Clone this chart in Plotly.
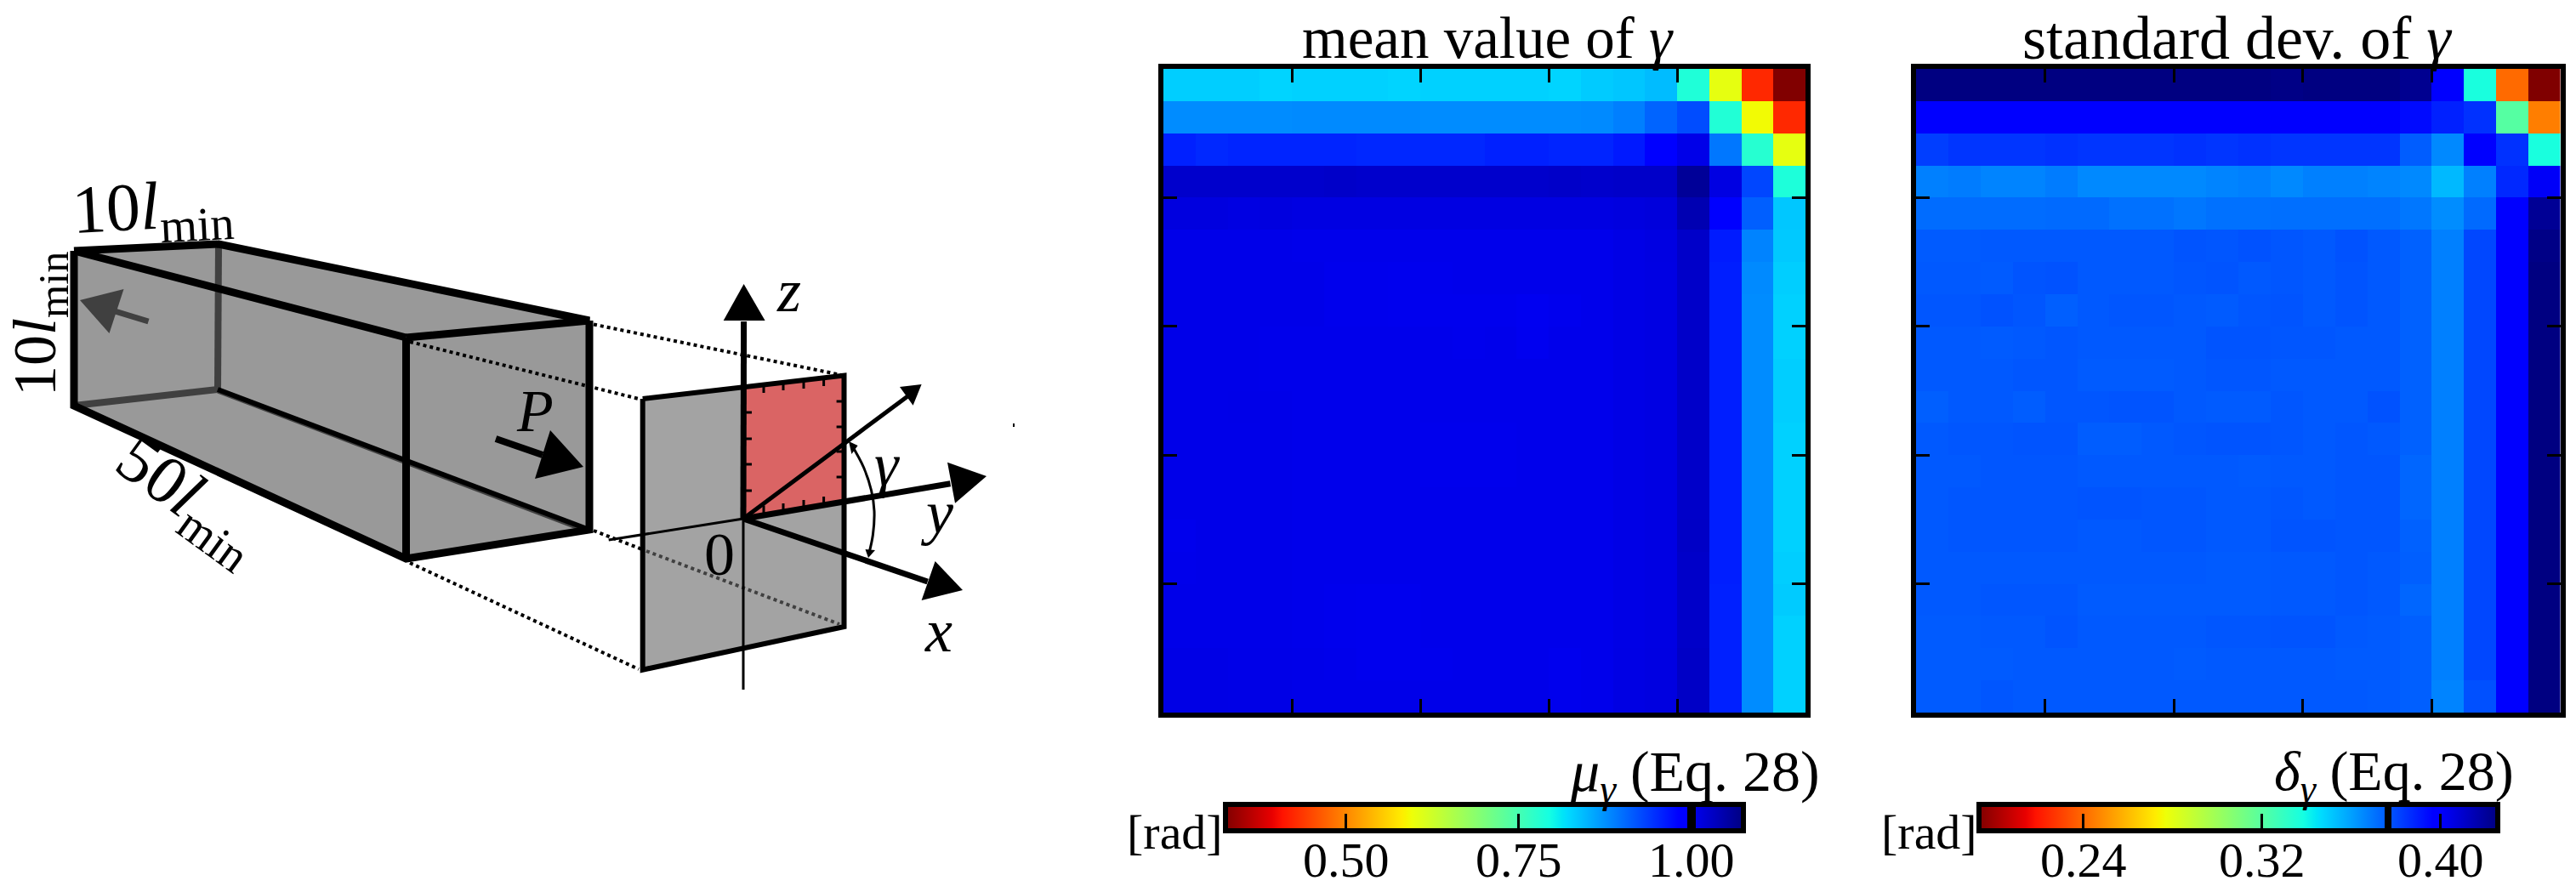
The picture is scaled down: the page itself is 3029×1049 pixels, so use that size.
import plotly.graph_objects as go

W, H = 3029, 1049
FONT = "Liberation Serif"
GREY = "rgb(153,153,153)"
PANEL_GREY = "rgb(163,163,163)"
DARK = "rgb(64,64,64)"
RED = "rgb(218,100,100)"

# matplotlib jet flipped, low values are dark red
jet_nodes = [
    (0.0, "rgb(0,0,128)"), (0.11, "rgb(0,0,255)"), (0.125, "rgb(0,0,255)"),
    (0.34, "rgb(0,219,255)"), (0.35, "rgb(0,230,247)"), (0.375, "rgb(21,255,226)"),
    (0.64, "rgb(238,255,8)"), (0.65, "rgb(247,246,0)"), (0.66, "rgb(255,236,0)"),
    (0.89, "rgb(255,19,0)"), (0.91, "rgb(232,0,0)"), (1.0, "rgb(128,0,0)"),
]
jet_r = [[round(1 - p, 3), c] for p, c in reversed(jet_nodes)]

mean_min, mean_max = 0.3256, 1.0755
std_min, std_max = 0.1931, 0.4252
mean_ticks = [0.5, 0.75, 1.0]
mean_labels = ["0.50", "0.75", "1.00"]
std_ticks = [0.24, 0.32, 0.40]
std_labels = ["0.24", "0.32", "0.40"]
mean_mark = 1.0004
std_mark = 0.3764
tick_cells = [4, 8, 12, 16]

# row 0 is the top row
mean_gamma = [
    [.830, .830, .830, .826, .828, .828, .828, .826, .828, .828, .828, .828, .826, .832, .836, .843, .785, .603, .425, .326],
    [.879, .879, .879, .879, .880, .880, .880, .880, .879, .879, .879, .879, .879, .880, .888, .908, .926, .783, .592, .425],
    [.958, .952, .955, .955, .955, .955, .953, .953, .953, .953, .958, .958, .955, .955, .963, .985, 1.008, .894, .779, .603],
    [1.026, 1.026, 1.026, 1.026, 1.026, 1.028, 1.026, 1.026, 1.026, 1.026, 1.026, 1.026, 1.028, 1.026, 1.028, 1.028, 1.060, 1.012, .930, .787],
    [1.014, 1.014, 1.012, 1.014, 1.012, 1.012, 1.012, 1.012, 1.012, 1.012, 1.012, 1.012, 1.012, 1.012, 1.014, 1.016, 1.043, .985, .912, .835],
    [1.007, 1.007, 1.007, 1.007, 1.006, 1.006, 1.006, 1.006, 1.006, 1.006, 1.006, 1.006, 1.006, 1.006, 1.009, 1.012, 1.028, .962, .885, .834],
    [1.007, 1.007, 1.007, 1.007, 1.007, 1.005, 1.005, 1.004, 1.005, 1.006, 1.006, 1.006, 1.006, 1.006, 1.009, 1.011, 1.028, .960, .880, .830],
    [1.007, 1.007, 1.007, 1.007, 1.007, 1.005, 1.005, 1.004, 1.004, 1.004, 1.004, 1.002, 1.004, 1.006, 1.009, 1.011, 1.028, .960, .879, .828],
    [1.007, 1.007, 1.007, 1.006, 1.006, 1.006, 1.006, 1.006, 1.006, 1.005, 1.006, 1.003, 1.006, 1.006, 1.009, 1.011, 1.028, .960, .879, .828],
    [1.007, 1.007, 1.007, 1.006, 1.006, 1.006, 1.006, 1.006, 1.006, 1.006, 1.006, 1.006, 1.006, 1.006, 1.009, 1.011, 1.028, .960, .879, .830],
    [1.007, 1.007, 1.008, 1.007, 1.006, 1.006, 1.006, 1.006, 1.006, 1.006, 1.006, 1.006, 1.006, 1.006, 1.009, 1.011, 1.028, .960, .879, .830],
    [1.007, 1.007, 1.007, 1.007, 1.006, 1.006, 1.006, 1.006, 1.005, 1.005, 1.005, 1.006, 1.006, 1.006, 1.009, 1.011, 1.028, .960, .879, .828],
    [1.007, 1.007, 1.007, 1.007, 1.006, 1.006, 1.006, 1.006, 1.005, 1.005, 1.005, 1.006, 1.006, 1.006, 1.009, 1.011, 1.028, .960, .879, .828],
    [1.007, 1.007, 1.007, 1.007, 1.006, 1.006, 1.006, 1.006, 1.006, 1.006, 1.006, 1.006, 1.006, 1.006, 1.009, 1.011, 1.028, .960, .879, .828],
    [1.005, 1.007, 1.007, 1.007, 1.006, 1.006, 1.006, 1.006, 1.006, 1.006, 1.006, 1.006, 1.006, 1.006, 1.009, 1.011, 1.030, .960, .879, .828],
    [1.006, 1.007, 1.007, 1.007, 1.006, 1.006, 1.006, 1.006, 1.006, 1.006, 1.006, 1.006, 1.006, 1.006, 1.009, 1.011, 1.028, .960, .879, .830],
    [1.007, 1.007, 1.007, 1.007, 1.006, 1.005, 1.004, 1.004, 1.006, 1.006, 1.006, 1.006, 1.006, 1.006, 1.009, 1.011, 1.028, .958, .879, .832],
    [1.007, 1.007, 1.007, 1.007, 1.006, 1.005, 1.004, 1.004, 1.006, 1.006, 1.006, 1.006, 1.006, 1.006, 1.009, 1.011, 1.028, .958, .879, .828],
    [1.009, 1.009, 1.008, 1.008, 1.007, 1.006, 1.004, 1.004, 1.005, 1.006, 1.006, 1.006, 1.004, 1.006, 1.010, 1.012, 1.030, .958, .879, .828],
    [1.010, 1.010, 1.009, 1.009, 1.007, 1.007, 1.007, 1.007, 1.007, 1.007, 1.007, 1.007, 1.005, 1.006, 1.011, 1.013, 1.030, .958, .879, .828],
]

std_gamma = [
    [.425, .425, .425, .425, .425, .425, .425, .425, .425, .425, .425, .424, .425, .425, .425, .422, .397, .337, .240, .193],
    [.398, .398, .398, .398, .398, .398, .398, .398, .398, .398, .398, .398, .398, .398, .398, .394, .389, .385, .320, .245],
    [.382, .384, .384, .384, .385, .384, .384, .384, .385, .384, .385, .384, .384, .384, .384, .375, .365, .397, .385, .337],
    [.367, .368, .366, .366, .368, .365, .365, .365, .365, .366, .367, .365, .367, .367, .366, .365, .354, .367, .387, .401],
    [.3715, .3715, .3715, .3715, .372, .372, .3705, .3705, .369, .3705, .3705, .371, .371, .371, .371, .369, .364, .372, .397, .421],
    [.3755, .3755, .376, .376, .376, .376, .376, .376, .377, .3765, .3775, .3765, .376, .3775, .376, .374, .367, .380, .397, .424],
    [.376, .376, .3755, .377, .3775, .376, .376, .376, .3765, .377, .376, .3765, .376, .377, .376, .374, .367, .380, .397, .425],
    [.3765, .3765, .3775, .3765, .3745, .376, .3765, .3765, .376, .3755, .3765, .377, .376, .377, .376, .374, .367, .380, .397, .425],
    [.376, .376, .3755, .376, .3765, .376, .376, .376, .376, .377, .377, .3765, .3765, .376, .376, .374, .367, .380, .397, .425],
    [.376, .376, .376, .3765, .3765, .3755, .3755, .3755, .376, .3765, .3765, .376, .376, .376, .376, .374, .367, .380, .397, .425],
    [.3745, .376, .376, .375, .3765, .3765, .377, .377, .376, .3755, .3755, .3765, .376, .376, .3775, .374, .367, .380, .397, .425],
    [.376, .3765, .3765, .377, .377, .375, .375, .376, .3765, .377, .377, .3765, .376, .3765, .376, .374, .367, .380, .397, .425],
    [.376, .376, .3765, .3765, .3765, .376, .376, .376, .376, .376, .3755, .376, .376, .3765, .3765, .373, .367, .380, .397, .425],
    [.376, .3765, .3765, .3765, .3765, .377, .377, .3765, .3765, .376, .376, .3765, .376, .3765, .3765, .373, .367, .380, .397, .425],
    [.376, .3765, .3765, .3765, .3765, .376, .376, .3765, .3765, .376, .376, .377, .377, .3765, .3765, .374, .367, .380, .397, .425],
    [.376, .376, .376, .376, .376, .376, .376, .376, .376, .3755, .3755, .376, .376, .3765, .376, .3745, .367, .380, .397, .425],
    [.376, .376, .3765, .3765, .3765, .3755, .3755, .3755, .3755, .3755, .3755, .376, .376, .3765, .376, .373, .367, .380, .397, .425],
    [.3755, .3755, .376, .376, .377, .376, .376, .376, .376, .3765, .3765, .377, .377, .376, .3755, .3745, .367, .380, .397, .425],
    [.3755, .3755, .3755, .376, .376, .376, .376, .376, .3755, .376, .376, .376, .376, .3755, .3755, .3745, .367, .380, .397, .425],
    [.3755, .3755, .3765, .376, .376, .376, .376, .376, .376, .376, .376, .376, .376, .376, .3755, .3745, .366, .378, .397, .425],
]

cell_centres = [i + 0.5 for i in range(20)]

MEAN_BAR_X, MEAN_BAR_W = 1441, 609
STD_BAR_X, STD_BAR_W = 2326.5, 609.5


def dom_x(a, b):
    return [a / W, b / W]


def dom_y(top, bottom):
    return [1 - bottom / H, 1 - top / H]


def colorbar(left, bar_w):
    return dict(
        orientation="h", lenmode="pixels", len=bar_w, thickness=31, thicknessmode="pixels",
        x=left / W, xanchor="left", xpad=0, y=1 - 946 / H, yanchor="top", ypad=0,
        outlinewidth=6, outlinecolor="black", borderwidth=0,
        tickmode="array", tickvals=[], ticks="", showticklabels=False,
    )


fig = go.Figure()
fig.add_trace(go.Heatmap(
    z=mean_gamma, x=cell_centres, y=cell_centres, colorscale=jet_r, zmin=mean_min, zmax=mean_max,
    xaxis="x", yaxis="y", hoverinfo="skip", colorbar=colorbar(MEAN_BAR_X, MEAN_BAR_W),
))
fig.add_trace(go.Heatmap(
    z=std_gamma, x=cell_centres, y=cell_centres, colorscale=jet_r, zmin=std_min, zmax=std_max,
    xaxis="x2", yaxis="y2", hoverinfo="skip", colorbar=colorbar(STD_BAR_X, STD_BAR_W),
))


# the schematic on the left sits on a full page axis in pixels
def poly(pts, fill):
    fig.add_trace(go.Scatter(
        x=[p[0] for p in pts], y=[p[1] for p in pts], xaxis="x3", yaxis="y3", mode="lines",
        fill="toself", fillcolor=fill, line=dict(width=0), hoverinfo="skip", showlegend=False,
    ))


def line(pts, width, color="black", dash="solid", shape="linear"):
    fig.add_trace(go.Scatter(
        x=[p[0] for p in pts], y=[p[1] for p in pts], xaxis="x3", yaxis="y3", mode="lines",
        line=dict(width=width, color=color, dash=dash, shape=shape), hoverinfo="skip", showlegend=False,
    ))


A, B, C, D = (87, 295), (257, 287), (693, 377), (477.5, 397)
E, F, G, K = (87, 477), (477.5, 657), (693, 623), (256, 458)
O = (874, 610)
P_TL, P_TR, P_BR, P_BL = (755.7, 469), (992.5, 441.6), (992.5, 737), (755.7, 787.7)
DOTS = "4px,4px"

poly([A, B, C, G, F, E, A], GREY)
line([B, K], 8, DARK)
line([K, E], 8, DARK)
line([(256, 461), (691, 626)], 3, DARK)
line([K, G], 6)
line([A, D], 9)
line([D, F], 9)
line([A, B, C, D], 9)
line([A, E, F, G, C], 9)

# grey arrow on the back face, black P arrow on the front
line([(174.5, 378), (122, 362)], 7, DARK)
poly([(94, 353), (145.5, 340), (128.5, 392), (94, 353)], DARK)
line([(583, 516), (638, 535)], 8)
poly([(686, 549), (647, 506), (629, 563), (686, 549)], "black")

# dotted projection to the plane
line([(698, 381.5), P_TR], 4, dash=DOTS)
line([(482, 402), (751, 469)], 4, dash=DOTS)
line([(698, 624), (755, 646)], 4, dash=DOTS)
line([(482, 662), (751, 787)], 4, dash=DOTS)

poly([P_TL, P_TR, P_BR, P_BL, P_TL], PANEL_GREY)
poly([(874, 456.4), P_TR, (991, 587.7), O, (874, 456.4)], RED)
line([P_TL, P_TR, P_BR, P_BL, P_TL], 6)
line([(760, 648), (987, 734)], 4, DARK, dash=DOTS)

# ticks round the red patch
for x0, y0, x1, y1 in [
    (898, 453.6, 898, 462), (921, 451, 921, 459), (945, 448.5, 945, 457), (968.6, 446, 968.6, 454),
    (874, 485, 884, 485), (874, 516, 884, 516), (874, 546, 884, 546), (874, 577, 884, 577),
    (983.6, 472, 992, 472), (983.6, 502, 992, 502), (983.6, 531, 992, 531), (983.6, 561, 992, 561),
    (898, 603, 898, 594.5), (921, 600, 921, 592), (945, 596, 945, 588), (968.6, 593, 968.6, 584),
]:
    line([(x0, y0), (x1, y1)], 3)

line([O, (874, 811)], 3)
line([O, (715.7, 635)], 3)
line([O, (874.6, 378)], 7)
poly([(874.6, 334), (850.7, 377), (899.6, 377), (874.6, 334)], "black")
line([O, (1117.5, 568.8)], 7)
poly([(1160, 560), (1114, 543.7), (1123, 591.8), (1160, 560)], "black")
line([O, (1090.7, 684)], 7)
poly([(1132, 694), (1099.6, 660), (1083.6, 706), (1132, 694)], "black")
line([O, (1070, 464)], 5)
poly([(1083.6, 452), (1058, 455), (1073.6, 476.7), (1083.6, 452)], "black")

# angle arc with its two small heads
line([(1000.7, 522), (1015.7, 550), (1024.6, 577), (1028, 601), (1026.4, 629), (1022, 650)], 3, shape="spline")
poly([(998, 519), (1008.6, 524), (1001.4, 534), (998, 519)], "black")
poly([(1021, 656), (1017.5, 646), (1029, 647), (1021, 656)], "black")
line([(1191, 500), (1193, 500)], 4)

annotations = []


def label(x, y, text, size=72, angle=0):
    annotations.append(dict(
        xref="x3", yref="y3", x=x, y=y, text=text, showarrow=False, textangle=angle,
        xanchor="center", yanchor="middle", font=dict(family=FONT, size=size, color="black"),
    ))


def black_box(x, y, w, h):
    annotations.append(dict(
        xref="x3", yref="y3", x=x, y=y, text=" ", showarrow=False, width=w, height=h,
        bgcolor="black", borderpad=0, borderwidth=0, xanchor="center", yanchor="middle",
        font=dict(size=1),
    ))


LMIN = "<i>l</i><sub>min</sub>"
label(179, 248, "10" + LMIN, 80, -3)
label(46, 381, "10" + LMIN, 72, -90)
label(220, 589, "50" + LMIN, 80, 36)
label(629, 483, "<i>P</i>", 70)
label(927, 342, "<i>z</i>")
label(1101, 603, "<i>y</i>")
label(1103, 742, "<i>x</i>")
label(1043, 547, "<i>γ</i>")
label(846, 652, "0")
label(1749, 45, "mean value of <i>γ</i>", 69)
label(2630, 45, "standard dev. of <i>γ</i>", 72)
label(1381, 978, "[rad]", 58)
label(2268, 978, "[rad]", 58)
label(1993, 911, "<i>μ<sub>γ</sub></i> (Eq. 28)", 68)
label(2815, 911, "<i>δ<sub>γ</sub></i> (Eq. 28)", 66)

# colorbar ticks, labels and the black mark, placed by value along each bar
for left, bar_w, lo, hi, ticks, names, mark, w in [
    (MEAN_BAR_X, MEAN_BAR_W, mean_min, mean_max, mean_ticks, mean_labels, mean_mark, 10),
    (STD_BAR_X, STD_BAR_W, std_min, std_max, std_ticks, std_labels, std_mark, 8),
]:
    for v, name in zip(ticks, names):
        tx = left + (v - lo) / (hi - lo) * bar_w
        black_box(tx, 965, 3, 17)
        label(tx, 1011, name, 58)
    black_box(left + (mark - lo) / (hi - lo) * bar_w, 961.5, w, 30)


def heat_axes(domain, anchor):
    return dict(
        domain=domain, anchor=anchor, range=[0, 20], tickmode="array", tickvals=tick_cells,
        showticklabels=False, ticks="inside", ticklen=16, tickwidth=3, tickcolor="black",
        showline=True, linewidth=6, linecolor="black", mirror="ticks", showgrid=False, zeroline=False,
    )


yax = heat_axes(dom_y(81, 838), "x")
yax["range"] = [20, 0]
yax2 = heat_axes(dom_y(81, 838), "x2")
yax2["range"] = [20, 0]

fig.update_layout(
    width=W, height=H, margin=dict(l=0, r=0, t=0, b=0, pad=0, autoexpand=False),
    paper_bgcolor="white", plot_bgcolor="rgba(0,0,0,0)", showlegend=False,
    xaxis=heat_axes(dom_x(1368, 2123), "y"), yaxis=yax,
    xaxis2=heat_axes(dom_x(2253, 3010.5), "y2"), yaxis2=yax2,
    xaxis3=dict(domain=[0, 1], anchor="y3", range=[0, W], visible=False, fixedrange=True),
    yaxis3=dict(domain=[0, 1], anchor="x3", range=[H, 0], visible=False, fixedrange=True),
    annotations=annotations,
)

fig.write_html(
    "out.html",
    config={"displayModeBar": False},
    post_script="document.body.style.margin='0';document.body.style.overflow='hidden';",
)
